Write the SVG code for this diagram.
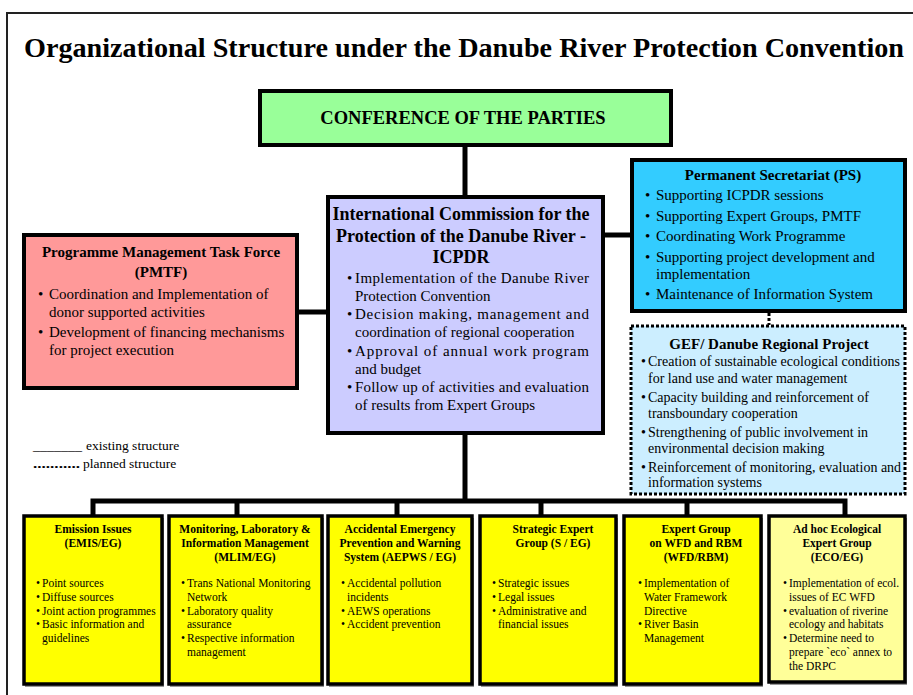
<svg xmlns="http://www.w3.org/2000/svg" width="913" height="695" viewBox="0 0 913 695">
<style>
text{font-family:"Liberation Serif","Times New Roman",serif;fill:#000}
.b{font-weight:bold}
.box{stroke:#000;stroke-width:4}
.sbox{stroke:#000;stroke-width:3.5}
.sh{fill:#999}
.con{stroke:#000;stroke-width:5;fill:none}
.t15{font-size:15px}
.t14{font-size:14px}
.t11{font-size:11.5px}
.h11{font-size:11.5px;font-weight:bold}
.m{text-anchor:middle}
</style>
<rect width="913" height="695" fill="#fff"/>
<path d="M7,695 V13 H913" fill="none" stroke="#222" stroke-width="2"/>
<text class="b" x="24" y="57" font-size="28" textLength="880" lengthAdjust="spacingAndGlyphs">Organizational Structure under the Danube River Protection Convention</text>

<g id="connectors">
<line class="con" x1="465" y1="146" x2="465" y2="197"/>
<line class="con" x1="298" y1="312" x2="328" y2="312"/>
<line class="con" x1="603" y1="235" x2="632" y2="235"/>
<line x1="769" y1="313" x2="769" y2="325" stroke="#000" stroke-width="3" stroke-dasharray="3 2"/>
<line class="con" x1="465" y1="433" x2="465" y2="501"/>
<polyline class="con" stroke-width="4" points="93,516 93,501 845,501 845,516"/>
<line class="con" stroke-width="4" x1="237" y1="501" x2="237" y2="516"/>
<line class="con" stroke-width="4" x1="397" y1="501" x2="397" y2="516"/>
<line class="con" stroke-width="4" x1="541" y1="501" x2="541" y2="516"/>
<line class="con" stroke-width="4" x1="687" y1="501" x2="687" y2="516"/>
</g>

<g id="conference">
<rect class="box" x="260" y="91" width="411" height="54" fill="#99FF99" stroke-width="5"/>
<text class="b m" x="463" y="124" font-size="18.5">CONFERENCE OF THE PARTIES</text>
</g>

<g id="icpdr">
<rect class="box" x="328" y="197" width="275" height="236" fill="#CCCCFF" stroke-width="3.5"/>
<text class="b m" x="461" y="220" font-size="18">International Commission for the</text>
<text class="b m" x="461" y="242" font-size="18">Protection of the Danube River -</text>
<text class="b m" x="461" y="263" font-size="18">ICPDR</text>
<g class="t15">
<text x="347" y="283">•</text>
<text x="355" y="283" textLength="234" lengthAdjust="spacing">Implementation of the Danube River</text>
<text x="355" y="301">Protection Convention</text>
<text x="347" y="319">•</text>
<text x="355" y="319" textLength="234" lengthAdjust="spacing">Decision making, management and</text>
<text x="355" y="337">coordination of regional cooperation</text>
<text x="347" y="356">•</text>
<text x="355" y="356" textLength="234" lengthAdjust="spacing">Approval of annual work program</text>
<text x="355" y="374">and budget</text>
<text x="347" y="392">•</text>
<text x="355" y="392" textLength="234" lengthAdjust="spacing">Follow up of activities and evaluation</text>
<text x="355" y="410">of results from Expert Groups</text>
</g>
</g>

<g id="pmtf">
<rect class="box" x="24" y="235" width="273" height="153" fill="#FF9999" stroke-width="3.5"/>
<text class="b m" x="161" y="257" font-size="15">Programme Management Task Force</text>
<text class="b m" x="161" y="277" font-size="15">(PMTF)</text>
<g class="t15">
<text x="38" y="299">•</text>
<text x="49" y="299">Coordination and Implementation of</text>
<text x="49" y="317">donor supported activities</text>
<text x="38" y="337">•</text>
<text x="49" y="337">Development of financing mechanisms</text>
<text x="49" y="355">for project execution</text>
</g>
</g>

<g id="ps">
<rect class="box" x="632" y="160" width="273" height="151" fill="#33CCFF" stroke-width="3.5"/>
<text class="b m" x="773" y="180" font-size="15">Permanent Secretariat (PS)</text>
<g class="t15">
<text x="645" y="200">•</text><text x="656" y="200">Supporting ICPDR sessions</text>
<text x="645" y="221">•</text><text x="656" y="221">Supporting Expert Groups, PMTF</text>
<text x="645" y="241">•</text><text x="656" y="241">Coordinating Work Programme</text>
<text x="645" y="262">•</text><text x="656" y="262">Supporting project development and</text>
<text x="656" y="279">implementation</text>
<text x="645" y="299">•</text><text x="656" y="299">Maintenance of Information System</text>
</g>
</g>

<g id="gef">
<rect x="631" y="326" width="274" height="168" fill="#CCEEFF" stroke="#000" stroke-width="3" stroke-dasharray="3 2"/>
<text class="b m" x="769" y="349" font-size="15">GEF/ Danube Regional Project</text>
<g class="t14">
<text x="641" y="366">•</text><text x="648" y="366">Creation of sustainable ecological conditions</text>
<text x="648" y="383">for land use and water management</text>
<text x="641" y="402">•</text><text x="648" y="402">Capacity building and reinforcement of</text>
<text x="648" y="418">transboundary cooperation</text>
<text x="641" y="437">•</text><text x="648" y="437">Strengthening of public involvement in</text>
<text x="648" y="453">environmental decision making</text>
<text x="641" y="472">•</text><text x="648" y="472">Reinforcement of monitoring, evaluation and</text>
<text x="648" y="487">information systems</text>
</g>
</g>

<g id="legend" font-size="13.5">
<text x="33" y="450" textLength="49" lengthAdjust="spacingAndGlyphs">_______</text>
<text x="86" y="450">existing structure</text>
<text x="33" y="468" font-weight="bold" textLength="47" lengthAdjust="spacingAndGlyphs">...........</text>
<text x="83" y="468">planned structure</text>
</g>

<g id="emis">
<rect class="sh" x="25" y="518" width="139" height="169"/>
<rect class="sbox" x="24" y="516" width="138" height="168" fill="#FFFF00"/>
<text class="h11 m" x="93" y="533">Emission Issues</text>
<text class="h11 m" x="93" y="547">(EMIS/EG)</text>
<g class="t11">
<text x="36" y="587">•</text><text x="42" y="587">Point sources</text>
<text x="36" y="601">•</text><text x="42" y="601">Diffuse sources</text>
<text x="36" y="615">•</text><text x="42" y="615">Joint action programmes</text>
<text x="36" y="628">•</text><text x="42" y="628">Basic information and</text>
<text x="42" y="642">guidelines</text>
</g>
</g>

<g id="mlim">
<rect class="sh" x="170" y="518" width="154" height="169"/>
<rect class="sbox" x="169" y="516" width="153" height="168" fill="#FFFF00"/>
<text class="h11 m" x="245" y="533">Monitoring, Laboratory &amp;</text>
<text class="h11 m" x="245" y="547">Information Management</text>
<text class="h11 m" x="245" y="561">(MLIM/EG)</text>
<g class="t11">
<text x="181" y="587">•</text><text x="187" y="587">Trans National Monitoring</text>
<text x="187" y="601">Network</text>
<text x="181" y="615">•</text><text x="187" y="615">Laboratory quality</text>
<text x="187" y="628">assurance</text>
<text x="181" y="642">•</text><text x="187" y="642">Respective information</text>
<text x="187" y="656">management</text>
</g>
</g>

<g id="aepws">
<rect class="sh" x="329" y="518" width="145" height="169"/>
<rect class="sbox" x="328" y="516" width="144" height="168" fill="#FFFF00"/>
<text class="h11 m" x="400" y="533">Accidental Emergency</text>
<text class="h11 m" x="400" y="547">Prevention and Warning</text>
<text class="h11 m" x="400" y="561">System (AEPWS / EG)</text>
<g class="t11">
<text x="341" y="587">•</text><text x="347" y="587">Accidental pollution</text>
<text x="347" y="601">incidents</text>
<text x="341" y="615">•</text><text x="347" y="615">AEWS operations</text>
<text x="341" y="628">•</text><text x="347" y="628">Accident prevention</text>
</g>
</g>

<g id="seg">
<rect class="sh" x="481" y="518" width="137" height="169"/>
<rect class="sbox" x="480" y="516" width="136" height="168" fill="#FFFF00"/>
<text class="h11 m" x="553" y="533">Strategic Expert</text>
<text class="h11 m" x="553" y="547">Group (S / EG)</text>
<g class="t11">
<text x="492" y="587">•</text><text x="498" y="587">Strategic issues</text>
<text x="492" y="601">•</text><text x="498" y="601">Legal issues</text>
<text x="492" y="615">•</text><text x="498" y="615">Administrative and</text>
<text x="498" y="628">financial issues</text>
</g>
</g>

<g id="wfd">
<rect class="sh" x="625" y="518" width="138" height="169"/>
<rect class="sbox" x="624" y="516" width="137" height="168" fill="#FFFF00"/>
<text class="h11 m" x="696" y="533">Expert Group</text>
<text class="h11 m" x="696" y="547">on WFD and RBM</text>
<text class="h11 m" x="696" y="561">(WFD/RBM)</text>
<g class="t11">
<text x="638" y="587">•</text><text x="644" y="587">Implementation of</text>
<text x="644" y="601">Water Framework</text>
<text x="644" y="615">Directive</text>
<text x="638" y="628">•</text><text x="644" y="628">River Basin</text>
<text x="644" y="642">Management</text>
</g>
</g>

<g id="eco">
<rect class="sh" x="770" y="518" width="137" height="167"/>
<rect class="sbox" x="769" y="516" width="136" height="166" fill="#FFFF99"/>
<text class="h11 m" x="837" y="533">Ad hoc Ecological</text>
<text class="h11 m" x="837" y="547">Expert Group</text>
<text class="h11 m" x="837" y="561">(ECO/EG)</text>
<g class="t11">
<text x="783" y="587">•</text><text x="789" y="587">Implementation of ecol.</text>
<text x="789" y="601">issues of EC WFD</text>
<text x="783" y="615">•</text><text x="789" y="615">evaluation of riverine</text>
<text x="789" y="628">ecology and habitats</text>
<text x="783" y="642">•</text><text x="789" y="642">Determine need to</text>
<text x="789" y="656">prepare `eco` annex to</text>
<text x="789" y="670">the DRPC</text>
</g>
</g>
</svg>
